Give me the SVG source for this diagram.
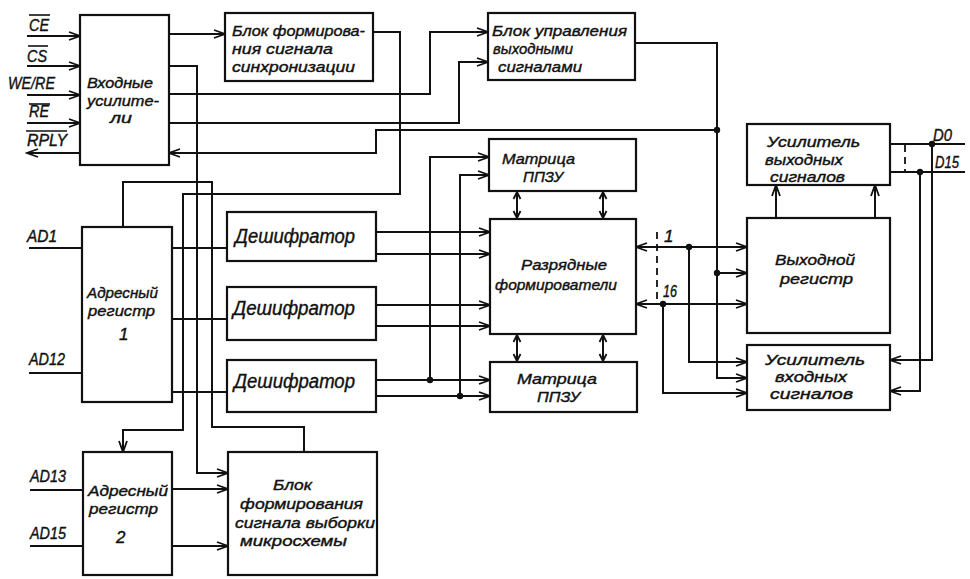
<svg xmlns="http://www.w3.org/2000/svg" width="970" height="579" viewBox="0 0 970 579">
  <style>
    .box { fill: #fff; stroke: #111; stroke-width: 2.2; }
    .w { fill: none; stroke: #111; stroke-width: 2; stroke-linejoin: miter; }
    .a { marker-end: url(#arr); }
    .aa { marker-start: url(#arrs); marker-end: url(#arr); }
    .dash { fill: none; stroke: #111; stroke-width: 1.8; stroke-dasharray: 7 5; }
    .dot { fill: #111; }
    text { font-family: "Liberation Sans", Arial, sans-serif; font-style: italic; font-size: 15px; fill: #111; stroke: #111; stroke-width: 0.4; }
    .big { font-size: 20px; }
    .lbl { font-size: 17px; }
    .ov { stroke: #111; stroke-width: 1.6; }
  </style>
  <defs>
    <marker id="arr" markerUnits="userSpaceOnUse" markerWidth="14" markerHeight="10" refX="12" refY="5" orient="auto">
      <path d="M1,1 L12,5 L1,9" fill="none" stroke="#111" stroke-width="1.8"/>
    </marker>
    <marker id="arrs" markerUnits="userSpaceOnUse" markerWidth="14" markerHeight="10" refX="2" refY="5" orient="auto">
      <path d="M13,1 L2,5 L13,9" fill="none" stroke="#111" stroke-width="1.8"/>
    </marker>
    <marker id="sm" markerUnits="userSpaceOnUse" markerWidth="10" markerHeight="10" refX="8" refY="5" orient="auto">
      <path d="M1,1.5 L8,5 L1,8.5" fill="none" stroke="#111" stroke-width="1.8"/>
    </marker>
    <marker id="sms" markerUnits="userSpaceOnUse" markerWidth="10" markerHeight="10" refX="2" refY="5" orient="auto">
      <path d="M9,1.5 L2,5 L9,8.5" fill="none" stroke="#111" stroke-width="1.8"/>
    </marker>
  </defs>

  <!-- connectors -->
  <g id="connectors">
    <!-- external control inputs -->
    <path class="w a" d="M27,36 H80"/>
    <path class="w a" d="M27,66 H80"/>
    <path class="w a" d="M27,95 H80"/>
    <path class="w a" d="M27,123 H80"/>
    <path class="w a" d="M80,153 H27"/>
    <!-- input amplifiers outputs -->
    <path class="w a" d="M169,34 H225"/>
    <path class="w a" d="M169,66 H197 V473 H228"/>
    <path class="w a" d="M169,94 H430 V32 H488"/>
    <path class="w a" d="M169,123 H459 V62 H488"/>
    <!-- sync block to address register 2 -->
    <path class="w a" d="M373,32 H400 V194 H183 V430 H123 V452"/>
    <!-- address register 1 to chip-select block -->
    <path class="w" d="M123,227 V182 H212 V427 H304 V452"/>
    <!-- address inputs -->
    <path class="w" d="M29,248 H82"/>
    <path class="w" d="M29,373 H82"/>
    <path class="w" d="M30,490 H83"/>
    <path class="w" d="M30,546 H83"/>
    <!-- address register 1 to decoders -->
    <path class="w" d="M172,248 H227"/>
    <path class="w" d="M172,319 H227"/>
    <path class="w" d="M172,392 H227"/>
    <!-- address register 2 to chip-select block -->
    <path class="w a" d="M172,489 H228"/>
    <path class="w a" d="M172,546 H228"/>
    <!-- decoders to bit drivers and matrices -->
    <path class="w a" d="M376,232 H490"/>
    <path class="w a" d="M376,254 H490"/>
    <path class="w a" d="M376,305 H490"/>
    <path class="w a" d="M376,326 H490"/>
    <path class="w a" d="M376,380 H490"/>
    <path class="w a" d="M376,396 H490"/>
    <path class="w a" d="M430,380 V157 H489"/>
    <path class="w a" d="M460,396 V175 H489"/>
    <!-- matrix / bit driver exchange -->
    <path class="w" style="marker-start:url(#sms);marker-end:url(#sm)" d="M517,192 V218"/>
    <path class="w" style="marker-start:url(#sms);marker-end:url(#sm)" d="M603,192 V218"/>
    <path class="w" style="marker-start:url(#sms);marker-end:url(#sm)" d="M517,335 V361"/>
    <path class="w" style="marker-start:url(#sms);marker-end:url(#sm)" d="M603,335 V361"/>
    <!-- output control block -->
    <path class="w a" d="M635,43 H717 V378 H747"/>
    <path class="w a" d="M717,273 H747"/>
    <path class="w a" d="M717,130 H376 V153 H169"/>
    <!-- data bus lines 1..16 -->
    <path class="w aa" d="M636,247 H747"/>
    <path class="w aa" d="M636,304 H747"/>
    <path class="w a" d="M689,247 V362 H747"/>
    <path class="w a" d="M663,304 V393 H747"/>
    <path class="dash" d="M657,232 V302"/>
    <!-- output register to output amplifier -->
    <path class="w a" d="M776,218 V185"/>
    <path class="w a" d="M875,218 V185"/>
    <!-- external data lines -->
    <path class="w" d="M890,144 H965"/>
    <path class="w" d="M890,172 H965"/>
    <path class="dash" d="M905,145 V171"/>
    <path class="w a" d="M932,144 V360 H890"/>
    <path class="w a" d="M920,172 V391 H890"/>
    <!-- junctions -->
    <circle class="dot" cx="430" cy="380" r="3.2"/>
    <circle class="dot" cx="460" cy="396" r="3.2"/>
    <circle class="dot" cx="717" cy="130" r="3.2"/>
    <circle class="dot" cx="717" cy="273" r="3.2"/>
    <circle class="dot" cx="689" cy="247" r="3.2"/>
    <circle class="dot" cx="663" cy="304" r="3.2"/>
    <circle class="dot" cx="932" cy="144" r="3.2"/>
    <circle class="dot" cx="920" cy="172" r="3.2"/>
  </g>

  <!-- signal labels -->
  <g id="labels">
    <text class="lbl" x="29" y="31" textLength="20" lengthAdjust="spacingAndGlyphs">CE</text><line class="ov" x1="29" y1="15" x2="50" y2="15"/>
    <text class="lbl" x="27" y="62" textLength="20" lengthAdjust="spacingAndGlyphs">CS</text><line class="ov" x1="28" y1="46" x2="48" y2="46"/>
    <text class="lbl" x="8" y="89" textLength="47" lengthAdjust="spacingAndGlyphs">WE/RE</text>
    <text class="lbl" x="29" y="117" textLength="20" lengthAdjust="spacingAndGlyphs">RE</text><line class="ov" x1="29" y1="104" x2="50" y2="104"/>
    <text class="lbl" x="27" y="146" textLength="40" lengthAdjust="spacingAndGlyphs">RPLY</text><line class="ov" x1="26" y1="131" x2="67" y2="131"/>
    <text class="lbl" x="27" y="242" textLength="30" lengthAdjust="spacingAndGlyphs">AD1</text>
    <text class="lbl" x="29" y="365" textLength="36" lengthAdjust="spacingAndGlyphs">AD12</text>
    <text class="lbl" x="30" y="482" textLength="36" lengthAdjust="spacingAndGlyphs">AD13</text>
    <text class="lbl" x="30" y="539" textLength="36" lengthAdjust="spacingAndGlyphs">AD15</text>
    <text class="lbl" x="933" y="141" textLength="19" lengthAdjust="spacingAndGlyphs">D0</text>
    <text class="lbl" x="935" y="168" textLength="24" lengthAdjust="spacingAndGlyphs">D15</text>
    <text class="lbl" x="664" y="242">1</text>
    <text class="lbl" x="663" y="297" textLength="14" lengthAdjust="spacingAndGlyphs">16</text>
  </g>

  <g id="input-amplifiers">
    <rect class="box" x="80" y="15" width="89" height="150"/>
    <text x="87" y="88" textLength="66" lengthAdjust="spacingAndGlyphs">Входные</text>
    <text x="87" y="106" textLength="72" lengthAdjust="spacingAndGlyphs">усилите-</text>
    <text x="110" y="123" textLength="22" lengthAdjust="spacingAndGlyphs">ли</text>
  </g>

  <g id="sync-block">
    <rect class="box" x="225" y="13" width="148" height="68"/>
    <text x="232" y="36" textLength="133" lengthAdjust="spacingAndGlyphs">Блок формирова-</text>
    <text x="232" y="54" textLength="101" lengthAdjust="spacingAndGlyphs">ния сигнала</text>
    <text x="232" y="72" textLength="123" lengthAdjust="spacingAndGlyphs">синхронизации</text>
  </g>

  <g id="output-control">
    <rect class="box" x="488" y="13" width="147" height="67"/>
    <text x="492" y="36" textLength="135" lengthAdjust="spacingAndGlyphs">Блок управления</text>
    <text x="493" y="54" textLength="80" lengthAdjust="spacingAndGlyphs">выходными</text>
    <text x="498" y="72" textLength="84" lengthAdjust="spacingAndGlyphs">сигналами</text>
  </g>

  <g id="matrix-top">
    <rect class="box" x="489" y="139" width="147" height="52"/>
    <text x="502" y="164" textLength="73" lengthAdjust="spacingAndGlyphs">Матрица</text>
    <text x="523" y="182" textLength="40" lengthAdjust="spacingAndGlyphs">ППЗУ</text>
  </g>

  <g id="output-amplifier">
    <rect class="box" x="747" y="124" width="143" height="61"/>
    <text x="767" y="147" textLength="93" lengthAdjust="spacingAndGlyphs">Усилитель</text>
    <text x="765" y="165" textLength="78" lengthAdjust="spacingAndGlyphs">выходных</text>
    <text x="770" y="182" textLength="75" lengthAdjust="spacingAndGlyphs">сигналов</text>
  </g>

  <g id="address-register-1">
    <rect class="box" x="82" y="227" width="90" height="175"/>
    <text x="87" y="298" textLength="71" lengthAdjust="spacingAndGlyphs">Адресный</text>
    <text x="88" y="316" textLength="67" lengthAdjust="spacingAndGlyphs">регистр</text>
    <text class="lbl" x="119" y="340">1</text>
  </g>

  <g id="decoder-1">
    <rect class="box" x="227" y="212" width="149" height="49"/>
    <text class="big" x="235" y="243" textLength="120" lengthAdjust="spacingAndGlyphs">Дешифратор</text>
  </g>
  <g id="decoder-2">
    <rect class="box" x="227" y="287" width="149" height="53"/>
    <text class="big" x="233" y="315" textLength="122" lengthAdjust="spacingAndGlyphs">Дешифратор</text>
  </g>
  <g id="decoder-3">
    <rect class="box" x="227" y="360" width="149" height="52"/>
    <text class="big" x="234" y="388" textLength="121" lengthAdjust="spacingAndGlyphs">Дешифратор</text>
  </g>

  <g id="bit-drivers">
    <rect class="box" x="490" y="219" width="146" height="115"/>
    <text x="521" y="270" textLength="86" lengthAdjust="spacingAndGlyphs">Разрядные</text>
    <text x="495" y="290" textLength="122" lengthAdjust="spacingAndGlyphs">формирователи</text>
  </g>

  <g id="matrix-bottom">
    <rect class="box" x="490" y="362" width="147" height="50"/>
    <text x="517" y="384" textLength="80" lengthAdjust="spacingAndGlyphs">Матрица</text>
    <text x="537" y="402" textLength="43" lengthAdjust="spacingAndGlyphs">ППЗУ</text>
  </g>

  <g id="output-register">
    <rect class="box" x="747" y="218" width="143" height="115"/>
    <text x="775" y="265" textLength="80" lengthAdjust="spacingAndGlyphs">Выходной</text>
    <text x="780" y="284" textLength="73" lengthAdjust="spacingAndGlyphs">регистр</text>
  </g>

  <g id="input-amplifier">
    <rect class="box" x="747" y="345" width="143" height="65"/>
    <text x="765" y="365" textLength="100" lengthAdjust="spacingAndGlyphs">Усилитель</text>
    <text x="775" y="382" textLength="72" lengthAdjust="spacingAndGlyphs">входных</text>
    <text x="770" y="399" textLength="83" lengthAdjust="spacingAndGlyphs">сигналов</text>
  </g>

  <g id="address-register-2">
    <rect class="box" x="83" y="452" width="89" height="123"/>
    <text x="88" y="496" textLength="80" lengthAdjust="spacingAndGlyphs">Адресный</text>
    <text x="89" y="514" textLength="69" lengthAdjust="spacingAndGlyphs">регистр</text>
    <text class="lbl" x="116" y="543">2</text>
  </g>

  <g id="chip-select-block">
    <rect class="box" x="228" y="452" width="149" height="123"/>
    <text x="273" y="490" textLength="39" lengthAdjust="spacingAndGlyphs">Блок</text>
    <text x="240" y="509" textLength="123" lengthAdjust="spacingAndGlyphs">формирования</text>
    <text x="235" y="528" textLength="140" lengthAdjust="spacingAndGlyphs">сигнала выборки</text>
    <text x="240" y="546" textLength="107" lengthAdjust="spacingAndGlyphs">микросхемы</text>
  </g>
</svg>
